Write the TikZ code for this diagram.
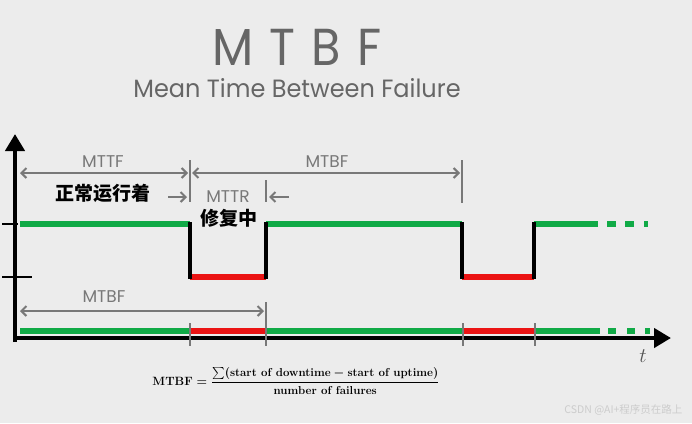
\documentclass[tikz,border=0pt]{standalone}
\usepackage{amsmath}
\usepackage{fontspec}
\usetikzlibrary{arrows.meta,positioning,calc}
\newfontfamily\cjk{Noto Sans CJK SC}
\newfontfamily\thinsans{Poppins}
\definecolor{bgray}{RGB}{236,236,236}
\definecolor{labelgray}{RGB}{120,120,120}
\definecolor{upgreen}{RGB}{16,170,70}
\definecolor{downred}{RGB}{235,20,20}
\newsavebox{\formulabox}
\begin{document}
\sbox{\formulabox}{\fontsize{11.5}{13}\selectfont\boldmath$\mathbf{MTBF}=\dfrac{\textstyle\sum(\textbf{start of downtime}-\textbf{start of uptime})}{\textbf{number of failures}}$}%
\begin{tikzpicture}[
    x=1pt, y=-1pt,
    axis/.style={line width=4.5pt, -{Triangle[length=17pt,width=19pt]}},
    tick/.style={line width=2.5pt},
    upline/.style={line width=5.5pt, upgreen},
    downline/.style={line width=5.5pt, downred},
    edge/.style={line width=3.5pt, line cap=rect},
    marker/.style={line width=1.8pt, labelgray},
    span/.style={line width=2pt, labelgray, {Straight Barb[length=5pt,width=10pt]}-{Straight Barb[length=5pt,width=10pt]}},
    pointer/.style={line width=2pt, labelgray, -{Straight Barb[length=5pt,width=10pt]}},
    term/.style={font=\thinsans\fontsize{17}{17}\selectfont, text=labelgray, inner sep=0pt},
    state/.style={font=\cjk\bfseries\fontsize{19}{19}\selectfont, inner sep=0pt}
]
    % background
    \fill[bgray] (0,0) rectangle (692,423);
    \useasboundingbox (0,0) rectangle (692,423);
    \draw[white!85!gray, line width=1.2pt] (700,20) circle (68);
    \draw[white!85!gray, line width=1pt] (664,110) circle (7);

    % title
    \node[font=\thinsans\fontsize{52}{52}\selectfont, text=gray!80!black, xscale=0.92] (title) at (297,47) {M\,\,T\,\,B\,\,F};
    \node[font=\thinsans\fontsize{25}{25}\selectfont, text=gray!80!black, xscale=0.96] (subtitle) at (297,88) {Mean Time Between Failure};

    % axes
    \draw[axis] (15,342) -- (15,134) coordinate (ytip);
    \draw[axis] (13,338) -- (671,338) coordinate (xtip);
    \node[font=\fontsize{22}{22}\selectfont, text=gray!65!black] (t) at (643,356) {$t$};
    \draw[tick] (2,224) coordinate (tu) -- (18,224);
    \draw[tick] (2,277) coordinate (td) -- (32,277);

    % signal
    \coordinate (s0) at (20,224);
    \coordinate (f1u) at (190,224);
    \coordinate (f1d) at (190,277);
    \coordinate (r1d) at (266,277);
    \coordinate (r1u) at (266,224);
    \coordinate (f2u) at (462,224);
    \coordinate (f2d) at (462,277);
    \coordinate (r2d) at (534,277);
    \coordinate (r2u) at (534,224);
    \coordinate (s1) at (598,224);
    \draw[upline] (s0) -- (f1u);
    \draw[downline] (f1d) -- (r1d);
    \draw[upline] (r1u) -- (f2u);
    \draw[downline] (f2d) -- (r2d);
    \draw[upline] (r2u) -- (s1);
    \foreach \a/\b in {607/616, 625/634, 644/648}
        \draw[upline] (\a,224) -- (\b,224);
    \draw[edge] (f1u) -- (f1d);
    \draw[edge] (r1d) -- (r1u);
    \draw[edge] (f2u) -- (f2d);
    \draw[edge] (r2d) -- (r2u);

    % time line
    \draw[upline] (20,331) -- (190,331);
    \draw[downline] (190,331) -- (266,331);
    \draw[upline] (266,331) -- (463,331);
    \draw[downline] (463,331) -- (535,331);
    \draw[upline] (535,331) -- (600,331);
    \foreach \a/\b in {608/616, 627/635, 645/650}
        \draw[upline] (\a,331) -- (\b,331);

    % markers
    \draw[marker] (190,160) coordinate (m1) -- (190,202);
    \draw[marker] (266,180) coordinate (m2) -- (266,202);
    \draw[marker] (462,160) coordinate (m3) -- (462,203);
    \foreach \x in {190,463,535}
        \draw[marker] (\x,323) -- (\x,346);
    \draw[marker] (266,302) coordinate (m4) -- (266,346);

    % spans
    \coordinate (a1) at (20,173);
    \coordinate (a2) at (188,173);
    \coordinate (a3) at (192,173);
    \coordinate (a4) at (460,173);
    \draw[span] (a1) -- (a2);
    \draw[span] (a3) -- (a4);
    \node[term] (mttf) at (103,162) {MTTF};
    \node[term] (mtbf) at (327,162) {MTBF};

    \node[state] (run) at (103,193) {正常运行着};
    \node[term] (mttr) at (228,197) {MTTR};
    \coordinate (p1) at (168,197);
    \coordinate (p2) at (187,197);
    \coordinate (p3) at (289,197);
    \coordinate (p4) at (269,197);
    \draw[pointer] (p1) -- (p2);
    \draw[pointer] (p3) -- (p4);
    \node[state] (fix) at (229,218) {修复中};

    \coordinate (b1) at (20,311);
    \coordinate (b2) at (264,311);
    \draw[span] (b1) -- (b2);
    \node[term] (mtbf2) at (104,297) {MTBF};

    % formula
    \node (formula) at (296,381) {\usebox{\formulabox}};

    \node[font=\cjk\fontsize{10.5}{10.5}\selectfont, text=gray!40, anchor=east] (wmark) at (686,410) {CSDN @AI+程序员在路上};
\end{tikzpicture}
\end{document}
